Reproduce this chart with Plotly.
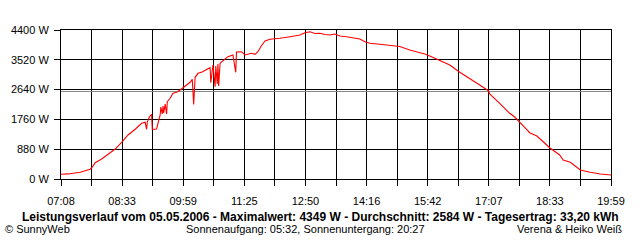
import plotly.graph_objects as go

# ---- data ----
times = ["07:08","07:18","07:35","07:49","07:52","07:56","08:05","08:14","08:24","08:33",
         "08:42","08:52","09:01","09:06","09:08","09:09","09:12","09:15","09:16","09:22",
         "09:24","09:27","09:28","09:30","09:31","09:32","09:34","09:36","09:37","09:41",
         "09:45","09:50","09:55","09:59","10:04","10:09","10:12","10:14","10:16","10:20",
         "10:25","10:32","10:37","10:38","10:40","10:41","10:44","10:45","10:47","10:48",
         "10:49","10:51","10:55","11:02","11:09","11:13","11:14","11:16","11:21","11:26",
         "11:31","11:35","11:40","11:44","11:49","11:54","12:01","12:08","12:15","12:29",
         "12:43","12:50","12:57","13:04","13:11","13:18","13:25","13:32","13:39","13:46",
         "13:53","14:03","14:07","14:14","14:21","14:35","14:49","15:03","15:17","15:31",
         "15:38","15:45","15:59","16:13","16:27","16:41","16:55","17:07","17:09","17:23",
         "17:37","17:44","17:51","17:58","18:05","18:15","18:24","18:33","18:47","18:52",
         "19:02","19:11","19:16","19:30","19:44","19:59"]
power = [140,150,200,290,360,480,590,730,885,1085,
         1300,1470,1645,1674,1468,1683,1840,1911,1468,1477,
         1654,1890,2126,1919,2156,1949,2215,1919,2283,2383,
         2531,2560,2628,2696,2776,2856,2944,2200,3003,3121,
         3151,3219,3287,2844,3307,3366,2726,3337,2805,3396,
         2746,3417,3493,3612,3662,3151,3750,3759,3759,3662,
         3682,3712,3680,3759,3936,4075,4125,4134,4155,4202,
         4252,4320,4349,4297,4302,4267,4252,4282,4223,4208,
         4184,4155,4134,4054,4007,3978,3936,3913,3809,3741,
         3691,3632,3493,3366,3151,2974,2776,2608,2510,2235,
         1940,1831,1692,1527,1367,1270,1101,924,709,561,
         493,363,266,198,148,118]
average = 2584
x_labels = ["07:08","08:33","09:59","11:25","12:50","14:16","15:42","17:07","18:33","19:59"]
y_ticks = [0, 880, 1760, 2640, 3520, 4400]
title_text = "Leistungsverlauf vom 05.05.2006 - Maximalwert: 4349 W - Durchschnitt: 2584 W - Tagesertrag: 33,20 kWh"
sun_text = "Sonnenaufgang: 05:32, Sonnenuntergang: 20:27"
left_text = "© SunnyWeb"
right_text = "Verena & Heiko Weiß"

def to_min(s):
    h, m = s.split(":")
    return int(h) * 60 + int(m)

xs = [to_min(t) for t in times]
t0, t1 = to_min(x_labels[0]), to_min(x_labels[-1])
n = (len(x_labels) - 1) * 2
tickvals = [t0 + (t1 - t0) * i / n for i in range(n + 1)]
ticktext = [x_labels[i // 2] if i % 2 == 0 else "" for i in range(n + 1)]

fig = go.Figure()
fig.add_trace(go.Scatter(x=[t0, t1], y=[average, average], mode="lines",
                         line=dict(color="#888888", width=1), hoverinfo="skip"))
fig.add_trace(go.Scatter(x=xs, y=power, mode="lines",
                         line=dict(color="#ff0000", width=1.1)))

font = dict(family="Liberation Sans, Arial, sans-serif", size=11, color="black")
fig.update_layout(
    width=640, height=240, showlegend=False,
    margin=dict(l=61, r=29, t=30, b=61),
    paper_bgcolor="white", plot_bgcolor="white", font=font,
    xaxis=dict(range=[t0, t1], tickvals=tickvals, ticktext=ticktext,
               showgrid=True, gridcolor="black", gridwidth=1,
               ticks="outside", ticklen=6, tickcolor="black", tickwidth=1,
               showline=True, linecolor="black", linewidth=1, mirror=True,
               zeroline=False, ticklabelstandoff=6),
    yaxis=dict(range=[0, 4400], tickvals=y_ticks,
               ticktext=[f"{v} W" for v in y_ticks],
               showgrid=True, gridcolor="black", gridwidth=1,
               ticks="outside", ticklen=6, tickcolor="black", tickwidth=1,
               showline=True, linecolor="black", linewidth=1, mirror=True,
               zeroline=False, ticklabelstandoff=3),
)

H = 149.0
def py(ypix):
    return (179 - ypix) / H
def px(xpix):
    return (xpix - 61) / 550.0

fig.add_annotation(text="<b>" + title_text + "</b>", xref="paper", yref="paper",
                   x=px(320), y=py(217), xanchor="center", yanchor="middle",
                   showarrow=False, font=dict(family="Liberation Sans, Arial, sans-serif", size=12, color="black"))
fig.add_annotation(text=left_text, xref="paper", yref="paper",
                   x=px(3), y=py(229), xanchor="left", yanchor="middle",
                   showarrow=False, font=font)
fig.add_annotation(text=sun_text, xref="paper", yref="paper",
                   x=px(305), y=py(229), xanchor="center", yanchor="middle",
                   showarrow=False, font=font)
fig.add_annotation(text=right_text, xref="paper", yref="paper",
                   x=px(624), y=py(229), xanchor="right", yanchor="middle",
                   showarrow=False, font=font)

fig.write_html("out.html")
